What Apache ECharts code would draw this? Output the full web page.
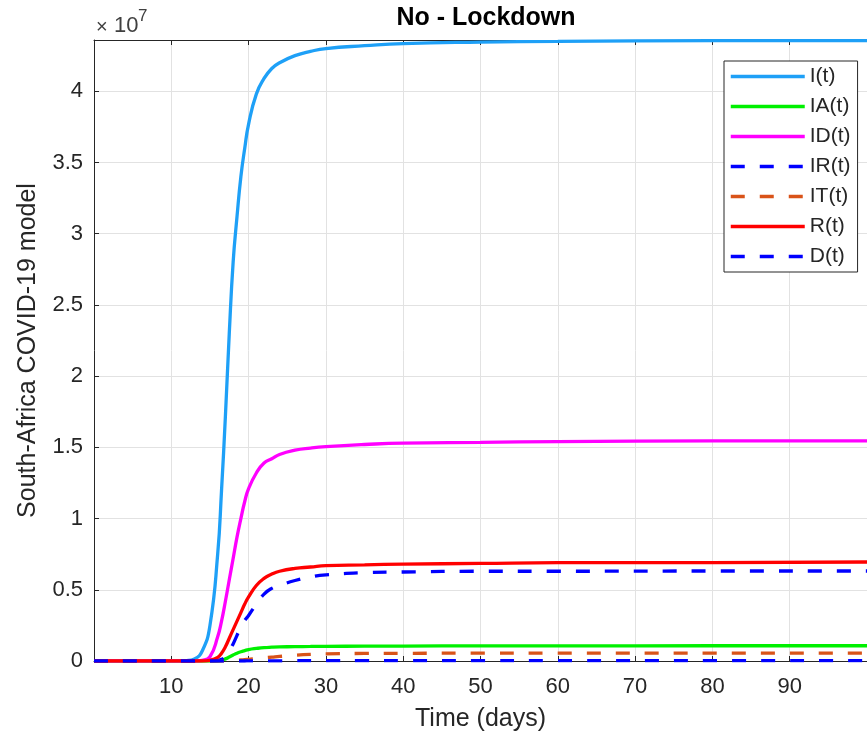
<!DOCTYPE html>
<html>
<head>
<meta charset="utf-8">
<script src="https://cdn.jsdelivr.net/npm/echarts@6/dist/echarts.min.js"></script>
<style>html,body{margin:0;padding:0;background:#fff}#c{width:867px;height:740px}</style>
</head>
<body>
<div id="c"></div>
<script>
// values in units of 10^7
const days = [0,10,12,13,14,15,16,16.5,17,17.5,18,18.5,19,19.5,20,21,22,23,24,26,28,30,35,40,50,60,80,100];
const I_t  = [0,0,0.003,0.015,0.07,0.25,0.75, 1.2,1.72,2.3,2.8,3.12,3.4,3.6, 3.77,3.98,4.09,4.16,4.2, 4.25,4.28,4.3, 4.32,4.335,4.345,4.35,4.355,4.355];
const IA_t = [0,0,0,0,0,0,0, 0.005,0.015,0.028,0.042,0.055,0.065,0.073, 0.08,0.088,0.094,0.097,0.099, 0.101,0.102,0.103, 0.104,0.105,0.106,0.106,0.107,0.107];
const ID_t = [0,0,0,0,0.005,0.03,0.17, 0.28,0.42,0.57,0.72,0.87,1.0,1.12, 1.21,1.32,1.39,1.42,1.45, 1.48,1.495,1.505, 1.52,1.53,1.535,1.54,1.545,1.545];
const IR_t = [0,0,0,0,0,0,0.005, 0.012,0.03,0.07,0.12,0.18,0.24,0.285, 0.32,0.4,0.47,0.51,0.53, 0.565,0.59,0.605, 0.62,0.625,0.63,0.63,0.632,0.632];
const IT_t = [0,0,0,0,0,0,0, 0,0,0.001,0.003,0.005,0.007,0.01, 0.012,0.017,0.022,0.027,0.032, 0.04,0.046,0.05, 0.053,0.054,0.055,0.055,0.055,0.055];
const R_t  = [0,0,0,0,0,0.005,0.025, 0.055,0.1,0.16,0.22,0.28,0.34,0.4, 0.45,0.53,0.58,0.61,0.63, 0.65,0.66,0.67, 0.675,0.68,0.685,0.69,0.69,0.695];
const D_t  = [0,0,0,0,0,0,0, 0,0,0,0,0,0,0, 0.0005,0.001,0.001,0.0015,0.0015, 0.002,0.002,0.002, 0.002,0.002,0.002,0.002,0.002,0.002];
const seriesNames = ['I(t)','IA(t)','ID(t)','IR(t)','IT(t)','R(t)','D(t)'];
const seriesVals = [I_t, IA_t, ID_t, IR_t, IT_t, R_t, D_t];
const colors = ['#1ea0f7','#00f000','#ff00ff','#0000ff','#d95319','#ff0000','#0000ff'];
const dashed = [false,false,false,true,true,false,true];

const FONT = 'Liberation Sans, Arial, sans-serif';
const TXT = '#262626';

const chart = echarts.init(document.getElementById('c'), null, {renderer:'canvas'});

const series = seriesNames.map((n, k) => ({
  name: n,
  type: 'line',
  xAxisIndex: 0,
  yAxisIndex: 0,
  symbol: 'none',
  smooth: 0.5,
  data: days.map((d, i) => [d, seriesVals[k][i]]),
  lineStyle: { color: colors[k], width: 3.3, type: dashed[k] ? [14, 15] : 'solid', cap: 'butt' },
  itemStyle: { color: colors[k] },
  z: 2 + k
}));

const option = {
  animation: false,
  backgroundColor: '#ffffff',
  grid: { left: 94, top: 40, right: -4, bottom: 79, containLabel: false },
  xAxis: [{
    type: 'value', min: 0, max: 100, interval: 10, position: 'bottom',
    name: 'Time (days)', nameLocation: 'middle', nameGap: 46,
    nameTextStyle: { fontFamily: FONT, fontSize: 25, color: TXT },
    axisLine: { show: true, onZero: false, lineStyle: { color: TXT, width: 1 } },
    axisTick: { show: true, inside: true, length: 5, lineStyle: { color: TXT } },
    axisLabel: { fontFamily: FONT, fontSize: 22, color: TXT, margin: 15, showMinLabel: false, showMaxLabel: false },
    splitLine: { show: true, lineStyle: { color: '#e2e2e2', width: 1 } }
  }, {
    type: 'value', min: 0, max: 100, interval: 10, position: 'top',
    axisLine: { show: true, onZero: false, lineStyle: { color: TXT, width: 1 } },
    axisTick: { show: true, inside: true, length: 5, lineStyle: { color: TXT } },
    axisLabel: { show: false },
    splitLine: { show: false }
  }],
  yAxis: [{
    type: 'value', min: 0, max: 4.36, interval: 0.5, position: 'left',
    name: 'South-Africa COVID-19 model', nameLocation: 'middle', nameGap: 53,
    nameTextStyle: { fontFamily: FONT, fontSize: 25, color: TXT },
    axisLine: { show: true, onZero: false, lineStyle: { color: TXT, width: 1 } },
    axisTick: { show: true, inside: true, length: 5, lineStyle: { color: TXT } },
    axisLabel: { fontFamily: FONT, fontSize: 22, color: TXT, margin: 11, showMaxLabel: false },
    splitLine: { show: true, lineStyle: { color: '#e2e2e2', width: 1 } }
  }],
  legend: {
    show: true,
    orient: 'vertical',
    left: 724, top: 61,
    data: seriesNames,
    itemWidth: 74, itemHeight: 14, itemGap: 9,
    padding: [5, 7, 5, 5],
    backgroundColor: '#ffffff',
    borderColor: TXT, borderWidth: 1, borderRadius: 0,
    itemStyle: { color: 'rgba(0,0,0,0)', borderWidth: 0, opacity: 0 },
    lineStyle: { width: 3.5 },
    textStyle: { fontFamily: FONT, fontSize: 21, color: TXT, lineHeight: 21 },
    selectedMode: false
  },
  graphic: [
    { type: 'text', x: 486, y: 18, z: 100,
      style: { text: 'No - Lockdown', font: 'bold 25px ' + FONT, fill: '#000', textAlign: 'center', textVerticalAlign: 'middle' } },
    { type: 'text', x: 96, y: 27, z: 100,
      style: { text: '×', font: '20px ' + FONT, fill: '#404040', textAlign: 'left', textVerticalAlign: 'middle' } },
    { type: 'text', x: 114, y: 26, z: 100,
      style: { text: '10', font: '22px ' + FONT, fill: '#404040', textAlign: 'left', textVerticalAlign: 'middle' } },
    { type: 'text', x: 138, y: 16, z: 100,
      style: { text: '7', font: '17px ' + FONT, fill: '#404040', textAlign: 'left', textVerticalAlign: 'middle' } }
  ],
  series: series
};
chart.setOption(option);
</script>
</body>
</html>
